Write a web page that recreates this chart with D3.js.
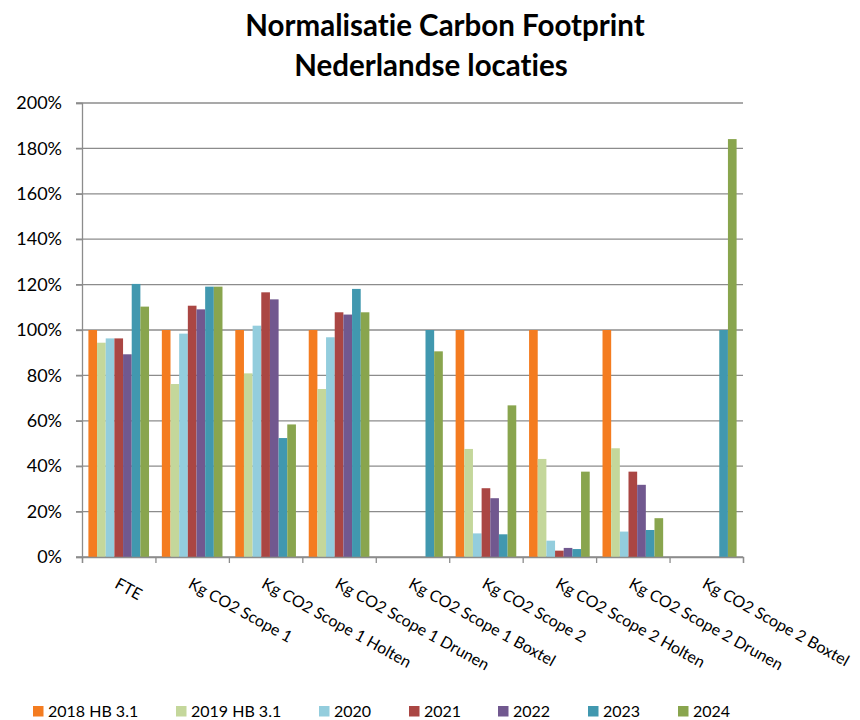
<!DOCTYPE html>
<html>
<head>
<meta charset="utf-8">
<script src="https://cdn.jsdelivr.net/npm/d3@7"></script>
<style>
  body { margin: 0; background: #fff; }
  svg { font-family: Lato, "Open Sans", sans-serif; font-variant-ligatures: none; }
</style>
</head>
<body>
<div id="chart"></div>
<script>
// categories and series (values in %)
const categories = [
  "FTE",
  "Kg CO2 Scope 1",
  "Kg CO2 Scope 1 Holten",
  "Kg CO2 Scope 1 Drunen",
  "Kg CO2 Scope 1 Boxtel",
  "Kg CO2 Scope 2",
  "Kg CO2 Scope 2 Holten",
  "Kg CO2 Scope 2 Drunen",
  "Kg CO2 Scope 2 Boxtel"
];
const seriesNames = ["2018 HB 3.1", "2019 HB 3.1", "2020", "2021", "2022", "2023", "2024"];
const v2018 = [100, 100, 100, 100, null, 100, 100, 100, null];
const v2019 = [94.4, 76.2, 80.9, 74.0, null, 47.6, 43.2, 47.9, null];
const v2020 = [96.3, 98.4, 101.9, 96.8, null, 10.4, 7.2, 11.2, null];
const v2021 = [96.3, 110.7, 116.6, 107.8, null, 30.3, 2.8, 37.6, null];
const v2022 = [89.3, 109.1, 113.5, 106.8, null, 25.9, 4.0, 31.8, null];
const v2023 = [120.3, 119.1, 52.4, 118.1, 100, 10.0, 3.5, 11.9, 100];
const v2024 = [110.3, 119.1, 58.4, 107.8, 90.6, 66.8, 37.6, 17.1, 184.1];
const yTicks = [0, 20, 40, 60, 80, 100, 120, 140, 160, 180, 200];
const colors = ["#F47C20", "#C4D79B", "#93CDDD", "#AA4643", "#71588F", "#4198AF", "#89A54E"];

const allSeries = [v2018, v2019, v2020, v2021, v2022, v2023, v2024];

const W = 860, H = 720;
const plotLeft = 82, plotRight = 743, plotTop = 103, plotBottom = 557;

const svg = d3.select("#chart").append("svg")
  .attr("width", W)
  .attr("height", H);

// title
const title = svg.append("g")
  .attr("font-weight", "bold")
  .attr("font-size", 29.5)
  .attr("fill", "#000")
  .attr("text-anchor", "middle");
title.append("text").attr("x", 445).attr("y", 36).text("Normalisatie Carbon Footprint");
title.append("text").attr("x", 431).attr("y", 76).text("Nederlandse locaties");

// scales
const x0 = d3.scaleBand().domain(categories).range([plotLeft, plotRight]).padding(0);
const x1 = d3.scaleBand().domain(seriesNames)
  .range([6.4, x0.bandwidth() - 6.4]).padding(0);
const y = d3.scaleLinear().domain([0, 200]).range([plotBottom, plotTop]);

// gridlines
svg.append("g")
  .selectAll("line")
  .data(yTicks)
  .enter()
  .append("line")
  .attr("x1", plotLeft - 6)
  .attr("x2", plotRight)
  .attr("y1", (d) => y(d))
  .attr("y2", (d) => y(d))
  .attr("stroke", "#8c8c8c")
  .attr("stroke-width", 1.3);

// y axis
const yAxis = svg.append("g")
  .attr("transform", `translate(${plotLeft},0)`)
  .call(d3.axisLeft(y).tickValues(yTicks).tickSize(6).tickPadding(14)
    .tickFormat((d) => d + "%"));
yAxis.selectAll("path, line").attr("stroke", "#8c8c8c").attr("stroke-width", 1.3);
yAxis.selectAll("text").attr("font-size", 18).attr("fill", "#000")
  .attr("font-family", "Lato, sans-serif");

// bars
const groups = svg.append("g")
  .selectAll("g")
  .data(categories)
  .enter()
  .append("g")
  .attr("transform", (d) => `translate(${x0(d)},0)`);

groups.selectAll("rect")
  .data((d, i) => allSeries.map((s, j) => ({ name: seriesNames[j], value: s[i], color: colors[j] }))
    .filter((e) => e.value !== null))
  .enter()
  .append("rect")
  .attr("x", (d) => x1(d.name))
  .attr("width", x1.bandwidth())
  .attr("y", (d) => y(d.value))
  .attr("height", (d) => y(0) - y(d.value))
  .attr("fill", (d) => d.color);

// x axis with ticks on category boundaries
const xb = d3.scaleLinear().domain([0, categories.length]).range([plotLeft, plotRight]);
const xAxis = svg.append("g")
  .attr("transform", `translate(0,${plotBottom})`)
  .call(d3.axisBottom(xb).tickValues(d3.range(categories.length + 1)).tickSize(6).tickFormat(""));
xAxis.selectAll("path, line").attr("stroke", "#8c8c8c").attr("stroke-width", 1.3);

// rotated category labels
svg.append("g")
  .selectAll("text")
  .data(categories)
  .enter()
  .append("text")
  .attr("transform", (d) => `translate(${x0(d) + x0.bandwidth() / 2 - 5},${587}) rotate(29)`)
  .attr("font-size", 16)
  .attr("fill", "#000")
  .text((d) => d);

// legend
const legendX = [33, 176, 319, 409, 498, 588, 678];
const legend = svg.append("g")
  .selectAll("g")
  .data(seriesNames)
  .enter()
  .append("g")
  .attr("transform", (d, i) => `translate(${legendX[i]},706)`);
legend.append("rect")
  .attr("width", 10.5)
  .attr("height", 10.5)
  .attr("fill", (d, i) => colors[i]);
legend.append("text")
  .attr("x", 15)
  .attr("y", 11)
  .attr("font-size", 16)
  .attr("fill", "#000")
  .text((d) => d);
</script>
</body>
</html>
